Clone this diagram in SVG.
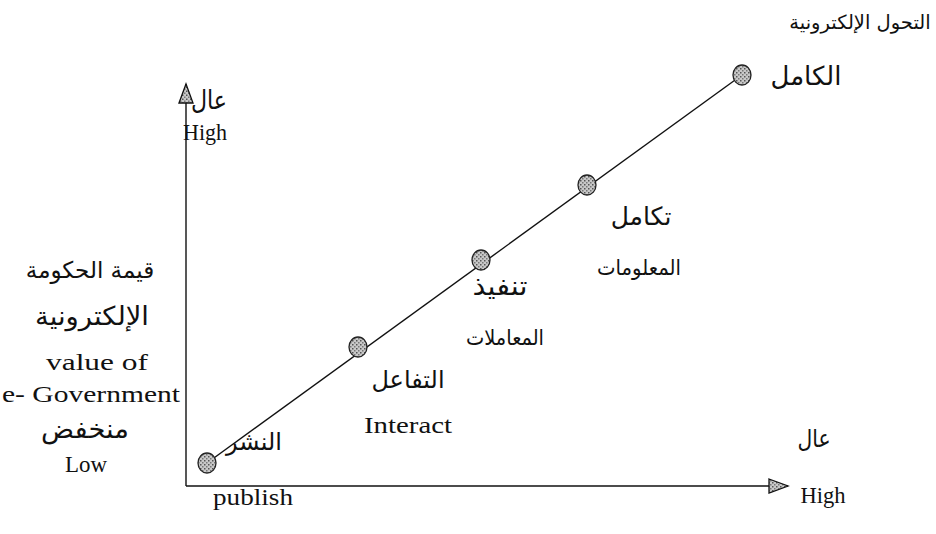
<svg xmlns="http://www.w3.org/2000/svg" width="936" height="534" viewBox="0 0 936 534">
<style>
  .t { font-family: "Liberation Serif", "DejaVu Sans", serif; font-size: 23px; fill: #111; text-anchor: middle; }
  .ar { font-family: "DejaVu Sans", "Noto Sans", sans-serif; font-size: 24px; fill: #111; text-anchor: middle; }
  .ln { stroke: #111; stroke-width: 1.4; fill: none; }
  .dot { fill: url(#grain); stroke: #222; stroke-width: 1.3; }
</style>
<defs>
  <pattern id="grain" width="4" height="4" patternUnits="userSpaceOnUse">
    <rect width="4" height="4" fill="#c8c8c8"/>
    <rect x="0" y="0" width="1.5" height="1.5" fill="#555"/>
    <rect x="2" y="2" width="1.5" height="1.5" fill="#777"/>
  </pattern>
  <marker id="tri" markerWidth="22" markerHeight="18" refX="20" refY="8" orient="auto" markerUnits="userSpaceOnUse">
    <path d="M1,1 L20,8 L1,15 Z" fill="url(#grain)" stroke="#111" stroke-width="1.3"/>
  </marker>
</defs>

<g id="connectors">
  <!-- axes -->
  <line class="ln" x1="186" y1="486" x2="186" y2="84" marker-end="url(#tri)"/>
  <line class="ln" x1="186" y1="486" x2="788" y2="486" marker-end="url(#tri)"/>
  <!-- progression line -->
  <line class="ln" x1="207" y1="463" x2="742" y2="75"/>
</g>

<g id="axis-y-labels">
  <text class="ar" x="209" y="109" style="font-size:26px" textLength="36" lengthAdjust="spacingAndGlyphs">عال</text>
  <text class="t" x="205" y="140" textLength="44" lengthAdjust="spacingAndGlyphs">High</text>
  <text class="ar" x="90" y="278" style="font-size:23px">قيمة الحكومة</text>
  <text class="ar" x="92" y="325" style="font-size:26px" textLength="114" lengthAdjust="spacingAndGlyphs">الإلكترونية</text>
  <text class="t" x="97" y="370" textLength="102" lengthAdjust="spacingAndGlyphs">value of</text>
  <text class="t" x="91" y="402" textLength="178" lengthAdjust="spacingAndGlyphs">e- Government</text>
  <text class="ar" x="85" y="438" style="font-size:26px" textLength="88" lengthAdjust="spacingAndGlyphs">منخفض</text>
  <text class="t" x="86" y="472" textLength="42" lengthAdjust="spacingAndGlyphs">Low</text>
</g>

<g id="axis-x-labels">
  <text class="ar" x="814" y="447" textLength="33" lengthAdjust="spacingAndGlyphs">عال</text>
  <text class="t" x="823" y="503" textLength="45" lengthAdjust="spacingAndGlyphs">High</text>
</g>

<g id="stage-publish">
  <ellipse class="dot" cx="207" cy="463" rx="9" ry="10"/>
  <text class="ar" x="254" y="450">النشر</text>
  <text class="t" x="253" y="505" textLength="80" lengthAdjust="spacingAndGlyphs">publish</text>
</g>

<g id="stage-interact">
  <ellipse class="dot" cx="358" cy="347" rx="9" ry="10"/>
  <text class="ar" x="408" y="388">التفاعل</text>
  <text class="t" x="408" y="433" textLength="88" lengthAdjust="spacingAndGlyphs">Interact</text>
</g>

<g id="stage-transactions">
  <ellipse class="dot" cx="481" cy="260" rx="9" ry="10"/>
  <text class="ar" x="500" y="295" style="font-size:26px" textLength="55" lengthAdjust="spacingAndGlyphs">تنفيذ</text>
  <text class="ar" x="505" y="345" style="font-size:21px" textLength="78" lengthAdjust="spacingAndGlyphs">المعاملات</text>
</g>

<g id="stage-integration">
  <ellipse class="dot" cx="587" cy="185" rx="9" ry="10"/>
  <text class="ar" x="641" y="225" style="font-size:25px">تكامل</text>
  <text class="ar" x="639" y="275" style="font-size:21px" textLength="84" lengthAdjust="spacingAndGlyphs">المعلومات</text>
</g>

<g id="stage-transformation">
  <ellipse class="dot" cx="742" cy="75" rx="9" ry="10"/>
  <text class="ar" x="860" y="29" style="font-size:19.5px">التحول الإلكترونية</text>
  <text class="ar" x="806" y="85" style="font-size:26px" textLength="71" lengthAdjust="spacingAndGlyphs">الكامل</text>
</g>
</svg>
